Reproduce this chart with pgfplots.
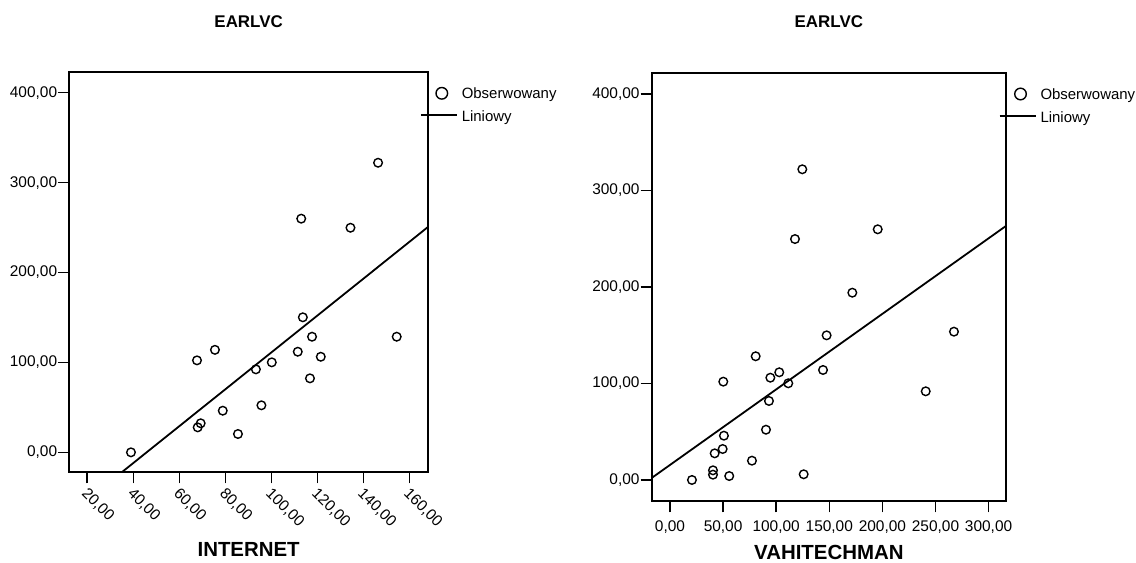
\documentclass[border=0pt]{standalone}
\usepackage{fontspec}
\setmainfont{Liberation Sans}
\usepackage{pgfplots}
\pgfplotsset{compat=1.18}

\pgfplotstableread{
x y
39.0 0.0
67.7 102.3
75.5 114.0
68.0 27.8
69.3 32.3
78.9 46.3
85.5 20.4
93.3 92.3
95.7 52.3
100.2 100.1
111.5 111.9
113.0 259.9
113.7 150.2
117.7 128.6
116.8 82.3
121.5 106.3
134.4 249.8
146.4 322.1
154.5 128.6
}\leftdata

\pgfplotstableread{
x y
124.6 322.0
117.7 249.7
195.6 259.8
171.7 194.1
147.5 149.9
267.4 153.7
80.7 128.2
102.9 111.6
94.5 106.0
50.2 101.9
111.4 100.2
144.1 114.0
240.8 91.9
93.2 81.9
90.4 52.1
50.8 45.9
49.6 32.1
42.1 27.6
77.2 20.0
40.5 10.0
40.5 5.5
55.8 4.1
20.7 0.0
125.9 5.9
}\rightdata

\pgfplotsset{
  myax/.style={
    scale only axis,
    axis line style={line width=2bp},
    every tick/.style={line width=1.5bp, black},
    major tick length=11bp,
    tick align=outside,
    xtick pos=left, ytick pos=left,
    ytick={0,100,200,300,400},
    tick label style={font=\fontsize{15.5}{18}\selectfont},
    /pgf/number format/fixed,
    /pgf/number format/fixed zerofill,
    /pgf/number format/precision=2,
    /pgf/number format/use comma,
    /pgf/number format/1000 sep={},
    /pgf/number format/assume math mode=true,
    yticklabel style={anchor=east, inner sep=0pt, xshift=-1bp},
    title style={font=\bfseries\fontsize{17}{20}\selectfont, at={(axis description cs:0.5,1)}, anchor=center},
    xlabel style={font=\bfseries\fontsize{20.5}{24}\selectfont, at={(axis description cs:0.5,0)}, anchor=center},
    legend style={at={(axis description cs:1,1)}, anchor=north west, draw=none, fill=none,
      inner sep=0pt, outer sep=0pt, font=\fontsize{15}{18}\selectfont,
      nodes={anchor=base west, rotate=0, xshift=0pt, yshift=0pt, inner sep=0pt, text height=11bp, text depth=3bp},
      row sep=9bp, column sep=3bp},
    legend cell align=left,
  },
  scat/.style={only marks, mark=o, mark size=4.3bp, mark options={line width=1.4bp, black}, black,
    legend image code/.code={\path[draw=none, fill=none] (-38bp,-1bp) rectangle (0bp,10bp); \draw[line width=1.4bp] (-17bp,5.5bp) circle (5.8bp);}},
  regl/.style={black, line width=1.8bp,
    legend image code/.code={\path[draw=none, fill=none] (-38bp,-1bp) rectangle (0bp,10bp); \draw[line width=1.6bp] (-38bp,6.5bp) -- (-2bp,6.5bp);}},
}

\begin{document}
\begin{tikzpicture}
\useasboundingbox (0,0) rectangle (1136bp,563bp);

\begin{axis}[myax,
  at={(651.7bp,61.7bp)}, anchor=south west,
  width=354.3bp, height=428.3bp,
  xmin=-17.2, xmax=316.4, ymin=-22.1, ymax=421.8,
  xtick={0,50,100,150,200,250,300},
  xticklabel style={anchor=north, yshift=-5bp},
  title={EARLVC}, title style={yshift=45bp},
  xlabel={VAHITECHMAN}, xlabel style={yshift=-51bp},
  legend style={xshift=-7.3bp, yshift=-14.5bp},
]
\addplot[scat] table {\rightdata};
\addlegendentry{Obserwowany}
\addplot[regl] coordinates {(-17.2,2.1) (316.4,263.3)};
\addlegendentry{Liniowy}
\end{axis}

\begin{axis}[myax,
  at={(69.3bp,90.7bp)}, anchor=south west,
  width=358.7bp, height=400bp,
  xmin=12.2, xmax=168.1, ymin=-22.2, ymax=422.7,
  xtick={20,40,60,80,100,120,140,160},
  xticklabel style={rotate=-45, anchor=north west, inner sep=1bp, xshift=2bp},
  title={EARLVC}, title style={yshift=44.3bp},
  xlabel={INTERNET}, xlabel style={yshift=-77bp},
  legend style={xshift=-8bp, yshift=-14.5bp},
]
\addplot[scat] table {\leftdata};
\addlegendentry{Obserwowany}
\addplot[regl] coordinates {(12.2,-68.9) (168.1,250.7)};
\addlegendentry{Liniowy}
\end{axis}
\end{tikzpicture}
\end{document}
